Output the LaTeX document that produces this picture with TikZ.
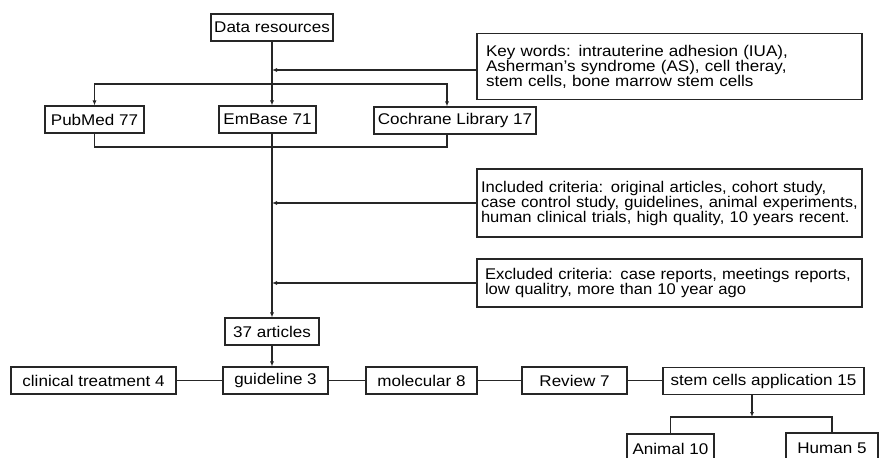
\documentclass[tikz,border=0pt]{standalone}
\usepackage{fontspec}
\setmainfont{Liberation Sans}[FakeStretch=1.1]
\newfontfamily\critfont{Liberation Sans}[FakeStretch=1.07]
\usetikzlibrary{positioning,arrows.meta}

\begin{document}
\begin{tikzpicture}[x=1pt,y=-1pt,
  line width=1.1pt,draw=black!85,
  box/.style={draw,minimum height=27pt,inner xsep=0pt,inner ysep=0pt,font=\fontsize{15.5}{15}\selectfont},
  note/.style={box,align=left,minimum width=385pt},
  arr/.style={-{Latex[length=5pt,width=4pt]}}]
\useasboundingbox (0,0) rectangle (879,458);
\clip (0,0) rectangle (879,458);
% search
\node[box,minimum width=122pt] (data) at (272,27.5) {Data resources};
\node[note,text width=367pt,inner xsep=9pt,minimum height=66pt] (keys) at (669.5,66.5) {Key words: intrauterine adhesion (IUA),\\Asherman's syndrome (AS), cell theray,\\stem cells, bone marrow stem cells};
\node[box,minimum width=99pt] (pubmed) at (94.5,119.5) {PubMed 77};
\node[box,minimum width=97pt] (embase) at (267.5,119.5) {EmBase 71};
\node[box,minimum width=162pt] (cochrane) at (455,120.5) {Cochrane Library 17};
% screening
\node[note,text width=377pt,inner xsep=4pt,minimum height=68pt,font=\fontsize{15.5}{15}\critfont] (incl) at (669.5,203) {Included criteria: original articles, cohort study,\\case control study, guidelines, animal experiments,\\human clinical trials, high quality, 10 years recent.};
\node[note,text width=369pt,inner xsep=8pt,minimum height=48pt,font=\fontsize{15.5}{15}\critfont] (excl) at (669.5,283) {Excluded criteria: case reports, meetings reports,\\low qualitry, more than 10 year ago};
\node[box,minimum width=94pt] (art) at (272,331.5) {37 articles};
% categories
\node[box,minimum width=165pt] (clin) at (93.5,380.5) {clinical treatment 4};
\node[box,minimum width=105pt] (guide) at (275.5,380.5) {guideline 3};
\node[box,minimum width=111pt] (mol) at (421.5,380.5) {molecular 8};
\node[box,minimum width=105pt] (rev) at (574.5,380.5) {Review 7};
\node[box,minimum width=201pt] (stem) at (763.5,381) {stem cells application 15};
\node[box,minimum width=87pt,minimum height=30pt] (animal) at (670.5,449) {Animal 10};
\node[box,minimum width=92pt,minimum height=30pt] (human) at (832,448) {Human 5};
\coordinate (split) at (272,84);
\coordinate (merge) at (272,147);
\coordinate (fork) at (752,417);
\draw[arr] (data) -- (data |- embase.north);
\draw[arr] ([yshift=-3.5pt]keys.west) -- ([yshift=-3.5pt]keys.west -| data);
\draw[arr] (split) -| (pubmed.north);
\draw[arr] (split) -| ([xshift=-8pt]cochrane.north);
\draw (pubmed.south) |- (merge) -| ([xshift=-8pt]cochrane.south);
\draw[arr] (embase.south -| art) -- (art.north);
\draw[arr] (incl.west) -- (incl.west -| art);
\draw[arr] (excl.west) -- (excl.west -| art);
\draw[arr] (art.south) -- (art.south |- guide.north);
\draw (clin) -- (guide);
\draw (guide) -- (mol);
\draw (mol) -- (rev);
\draw (rev.east) -- (rev.east -| stem.west);
\draw[arr] (stem.south -| fork) -- (fork);
\draw (animal.north) |- (fork) -| (human.north);
\end{tikzpicture}
\end{document}
